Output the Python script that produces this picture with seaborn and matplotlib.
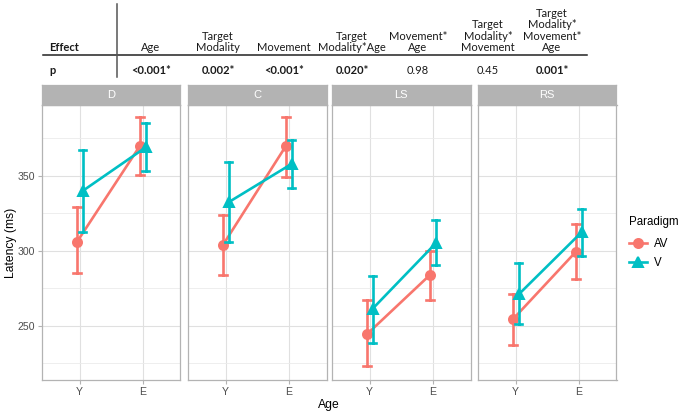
import numpy as np
import pandas as pd
import matplotlib
matplotlib.use("Agg")
import matplotlib.pyplot as plt
from matplotlib.lines import Line2D
import seaborn as sns

# ---------------- data ----------------
panels = ["D", "C", "LS", "RS"]
ages = ["Y", "E"]
paradigms = ["AV", "V"]

# mean latency (ms) per panel: [Y, E]
av_mean = {"D": [306, 370], "C": [304, 370], "LS": [244.5, 284], "RS": [254.5, 299.5]}
v_mean = {"D": [340, 369], "C": [332.5, 358], "LS": [261.5, 305], "RS": [271, 312.5]}
# error bar lower / upper
av_lo = {"D": [285.5, 350.5], "C": [284, 349.5], "LS": [223.5, 267], "RS": [237.5, 281.5]}
av_hi = {"D": [329, 389], "C": [324, 389], "LS": [267, 300], "RS": [271.5, 318]}
v_lo = {"D": [312.5, 353], "C": [306, 342], "LS": [238.5, 290.5], "RS": [251, 296.5]}
v_hi = {"D": [367, 385], "C": [359, 374], "LS": [283, 320.5], "RS": [292, 328]}

y_ticks = [250, 300, 350]

table_headers = [["Age"], ["Target", "Modality"], ["Movement"], ["Target", "Modality*Age"],
                 ["Movement*", "Age"], ["Target", "Modality*", "Movement"],
                 ["Target", "Modality*", "Movement*", "Age"]]
table_p = ["<0.001*", "0.002*", "<0.001*", "0.020*", "0.98", "0.45", "0.001*"]
table_bold = [True, True, True, True, False, False, True]

# ---------------- build long data ----------------
rows = []
for pan in panels:
    for par, m, lo, hi in (("AV", av_mean, av_lo, av_hi), ("V", v_mean, v_lo, v_hi)):
        for i, age in enumerate(ages):
            for val in (lo[pan][i], m[pan][i], hi[pan][i]):
                rows.append({"Panel": pan, "Age": age, "Paradigm": par, "Latency": val})
df = pd.DataFrame(rows)

# ---------------- figure ----------------
W, H = 685, 416
fig = plt.figure(figsize=(W / 100, H / 100), dpi=100)
fig.patch.set_facecolor("white")

def fx(px):
    return px / W

def fy(py):
    return 1 - py / H

palette = {"AV": "#F8766D", "V": "#00BFC4"}
plot_font = "Liberation Sans"
tab_font = "Lato"

panel_x = [42, 188, 332, 478]
panel_w = 138.5
top_px, bot_px = 105, 380
strip_h = 20

handles = labels = None
for k, pan in enumerate(panels):
    ax = fig.add_axes([fx(panel_x[k]), fy(bot_px), panel_w / W, (bot_px - top_px) / H])
    sub = df[df["Panel"] == pan]
    sns.pointplot(data=sub, x="Age", y="Latency", hue="Paradigm", order=ages,
                  hue_order=paradigms, palette=palette, markers=["o", "^"],
                  linestyles=["-", "-"], dodge=0.09, estimator="median",
                  errorbar=lambda v: (v.min(), v.max()), capsize=0.12,
                  err_kws={"linewidth": 1.9}, linewidth=1.9, markersize=6.5,
                  ax=ax, legend=(k == 0))
    if k == 0:
        handles, labels = ax.get_legend_handles_labels()
        ax.get_legend().remove()
    ax.set_xlim(-0.6, 1.6)
    ax.set_ylim(214, 397.3)
    ax.set_yticks(y_ticks)
    ax.set_yticks([225, 275, 325, 375], minor=True)
    ax.grid(True, which="major", color="#E0E0E0", linewidth=0.8)
    ax.grid(True, which="minor", axis="y", color="#EBEBEB", linewidth=0.6)
    ax.set_axisbelow(True)
    for s in ax.spines.values():
        s.set_color("#B3B3B3")
        s.set_linewidth(0.9)
    ax.tick_params(axis="both", which="major", colors="#B3B3B3", length=2.8, width=0.8,
                   labelsize=7.6, labelcolor="#4D4D4D", pad=2)
    ax.tick_params(axis="y", which="minor", length=0)
    for t in ax.get_xticklabels() + ax.get_yticklabels():
        t.set_fontfamily(plot_font)
    if k > 0:
        ax.tick_params(axis="y", which="major", length=0, labelleft=False)
    ax.set_xlabel("")
    ax.set_ylabel("")

    sax = fig.add_axes([fx(panel_x[k]), fy(top_px), panel_w / W, strip_h / H])
    sax.set_facecolor("#B3B3B3")
    sax.set_xticks([])
    sax.set_yticks([])
    for s in sax.spines.values():
        s.set_color("#B3B3B3")
        s.set_linewidth(0.9)
    sax.text(0.5, 0.5, pan, color="white", fontsize=8, ha="center", va="center",
             family=plot_font, transform=sax.transAxes)

# axis titles
fig.text(fx(11), fy(242.5), "Latency (ms)", rotation=90, ha="center", va="center",
         fontsize=8.7, family=plot_font, color="black")
fig.text(fx(329), fy(405), "Age", ha="center", va="center", fontsize=8.7,
         family=plot_font, color="black")

# legend
leg = fig.legend(handles, labels, title="Paradigm", loc="upper left",
                 bbox_to_anchor=(fx(629), fy(216)), frameon=False,
                 prop={"family": plot_font, "size": 8.3}, handlelength=1.6,
                 handletextpad=0.6, labelspacing=0.6, borderaxespad=0, borderpad=0)
leg.get_title().set_fontfamily(plot_font)
leg.get_title().set_fontsize(8.3)
leg._legend_box.align = "left"
leg._legend_box.sep = 7

# ---------------- table ----------------
col_x = [151, 218, 284, 352, 418, 488, 552]
base_y = 51
line_sp = 11.3
val_y = 74.5
tfs = 8
tcol = "#1A1A1A"
fig.text(fx(49), fy(base_y), "Effect", ha="left", va="baseline", fontsize=tfs,
         family=tab_font, fontweight="bold", color=tcol)
fig.text(fx(49), fy(val_y), "p", ha="left", va="baseline", fontsize=tfs,
         family=tab_font, fontweight="bold", color=tcol)
for cx, lines, pv, b in zip(col_x, table_headers, table_p, table_bold):
    n = len(lines)
    for j, ln in enumerate(lines):
        fig.text(fx(cx), fy(base_y - (n - 1 - j) * line_sp), ln, ha="center",
                 va="baseline", fontsize=tfs, family=tab_font, color=tcol)
    fig.text(fx(cx), fy(val_y), pv, ha="center", va="baseline", fontsize=tfs,
             family=tab_font, fontweight="bold" if b else "normal", color=tcol)

fig.add_artist(Line2D([fx(43), fx(587)], [fy(54.5), fy(54.5)], color="#222222",
                      linewidth=1.1, transform=fig.transFigure))
fig.add_artist(Line2D([fx(116.5), fx(116.5)], [fy(4), fy(77)], color="#555555",
                      linewidth=1.1, transform=fig.transFigure))

fig.savefig("out.png", dpi=100, facecolor="white")
